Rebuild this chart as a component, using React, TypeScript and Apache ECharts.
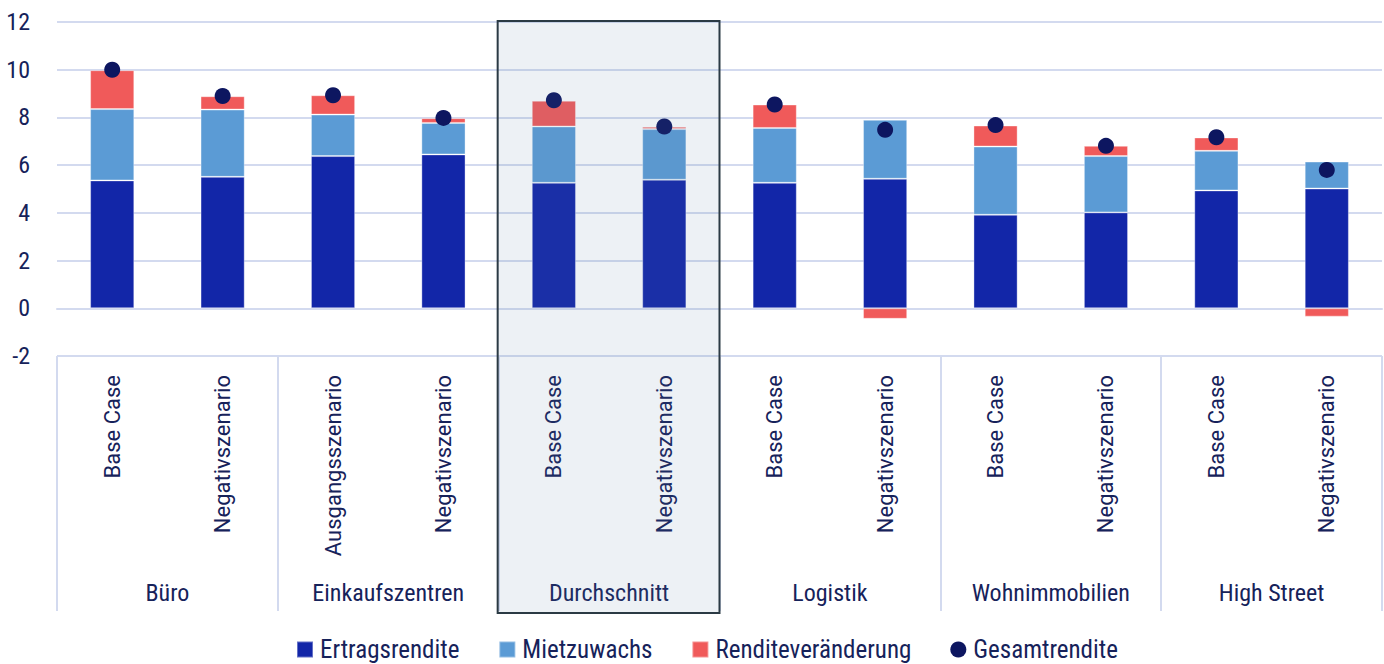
import React, { useEffect, useRef } from "react";
import * as echarts from "echarts";

// Scenario labels per bar and the sector they belong to
const scenarios = [
  "Base Case", "Negativszenario",
  "Ausgangsszenario", "Negativszenario",
  "Base Case", "Negativszenario",
  "Base Case", "Negativszenario",
  "Base Case", "Negativszenario",
  "Base Case", "Negativszenario",
];
const sectors = ["Büro", "Einkaufszentren", "Durchschnitt", "Logistik", "Wohnimmobilien", "High Street"];

// Return components in %
const ertragsrendite = [5.36, 5.51, 6.38, 6.45, 5.26, 5.39, 5.26, 5.43, 3.92, 4.02, 4.94, 5.02];
const mietzuwachs = [2.99, 2.82, 1.74, 1.32, 2.36, 2.12, 2.3, 2.47, 2.86, 2.36, 1.66, 1.13];
const renditeveraenderung = [1.63, 0.56, 0.81, 0.2, 1.08, 0.1, 0.98, -0.44, 0.88, 0.43, 0.56, -0.35];
const gesamtrendite = [10.0, 8.9, 8.93, 7.98, 8.72, 7.62, 8.54, 7.48, 7.68, 6.81, 7.17, 5.8];

const yTicks = { min: -2, max: 12, interval: 2 };

const NAVY = "#16225A";
const GRID = "#D3DAEF";
const NARROW = "'Roboto Condensed', 'DejaVu Sans Condensed', sans-serif";
const WIDE = "Roboto, 'Open Sans', sans-serif";

export default function App() {
  const ref = useRef<HTMLDivElement>(null);

  useEffect(() => {
    document.body.style.margin = "0";
    if (!ref.current) return;
    const chart = echarts.init(ref.current, undefined, { renderer: "svg" });

    const barStyle = (color: string) => ({
      color,
      borderColor: "rgba(255,255,255,0.35)",
      borderWidth: 1,
    });

    chart.setOption({
      animation: false,
      grid: { left: 57, right: 2, top: 22, bottom: 308, containLabel: false },
      legend: {
        left: 291,
        top: 632,
        itemWidth: 16,
        itemHeight: 16,
        itemGap: 39,
        textStyle: { fontSize: 25, color: NAVY, fontFamily: NARROW, padding: [0, 0, 0, 2] },
        data: [
          { name: "Ertragsrendite", icon: "rect" },
          { name: "Mietzuwachs", icon: "rect" },
          { name: "Renditeveränderung", icon: "rect" },
          { name: "Gesamtrendite", icon: "circle" },
        ],
      },
      xAxis: [
        {
          type: "category",
          position: "bottom",
          data: scenarios,
          axisLine: { show: true, lineStyle: { color: GRID, width: 2 } },
          axisTick: { show: false },
          axisLabel: {
            interval: 0,
            rotate: 90,
            margin: 19,
            fontSize: 22,
            fontFamily: WIDE,
            color: NAVY,
          },
        },
        {
          type: "category",
          position: "bottom",
          data: sectors,
          axisLine: { show: false },
          axisTick: { show: true, interval: 0, length: 255, lineStyle: { color: GRID, width: 2 } },
          axisLabel: {
            interval: 0,
            margin: 225,
            fontSize: 24,
            fontFamily: NARROW,
            color: NAVY,
          },
        },
      ],
      yAxis: {
        type: "value",
        min: yTicks.min,
        max: yTicks.max,
        interval: yTicks.interval,
        axisLine: { show: false },
        axisTick: { show: false },
        splitLine: { lineStyle: { color: GRID, width: 2 } },
        axisLabel: { fontSize: 24, fontFamily: NARROW, color: NAVY, margin: 27 },
      },
      series: [
        {
          name: "Ertragsrendite",
          type: "bar",
          stack: "total",
          barWidth: "40%",
          itemStyle: barStyle("#1226A8"),
          data: ertragsrendite,
        },
        {
          name: "Mietzuwachs",
          type: "bar",
          stack: "total",
          itemStyle: barStyle("#5B9BD5"),
          data: mietzuwachs,
        },
        {
          name: "Renditeveränderung",
          type: "bar",
          stack: "total",
          itemStyle: barStyle("#F05A5A"),
          data: renditeveraenderung,
        },
        {
          name: "Gesamtrendite",
          type: "scatter",
          symbol: "circle",
          symbolSize: 16,
          z: 5,
          itemStyle: { color: "#0D1660", opacity: 1 },
          data: gesamtrendite,
        },
      ],
    });

    // Highlight frame around the average group, spanning plot and axis labels
    const x4 = chart.convertToPixel({ xAxisIndex: 0 }, 4) as number;
    const x5 = chart.convertToPixel({ xAxisIndex: 0 }, 5) as number;
    const yTop = chart.convertToPixel({ yAxisIndex: 0 }, yTicks.max) as number;
    const yBottom = chart.convertToPixel({ yAxisIndex: 0 }, yTicks.min) as number;
    const band = x5 - x4;
    const left = x4 - band / 2 - 1;
    const right = x5 + band / 2;
    chart.setOption({
      graphic: [
        {
          type: "rect",
          z: 100,
          silent: true,
          shape: { x: left, y: yTop - 1, width: right - left, height: yBottom + 257 - (yTop - 1) },
          style: { fill: "rgba(92,130,162,0.11)", stroke: "#2B3A44", lineWidth: 2 },
        },
      ],
    });

    return () => chart.dispose();
  }, []);

  return <div ref={ref} style={{ width: 1384, height: 664 }} />;
}
